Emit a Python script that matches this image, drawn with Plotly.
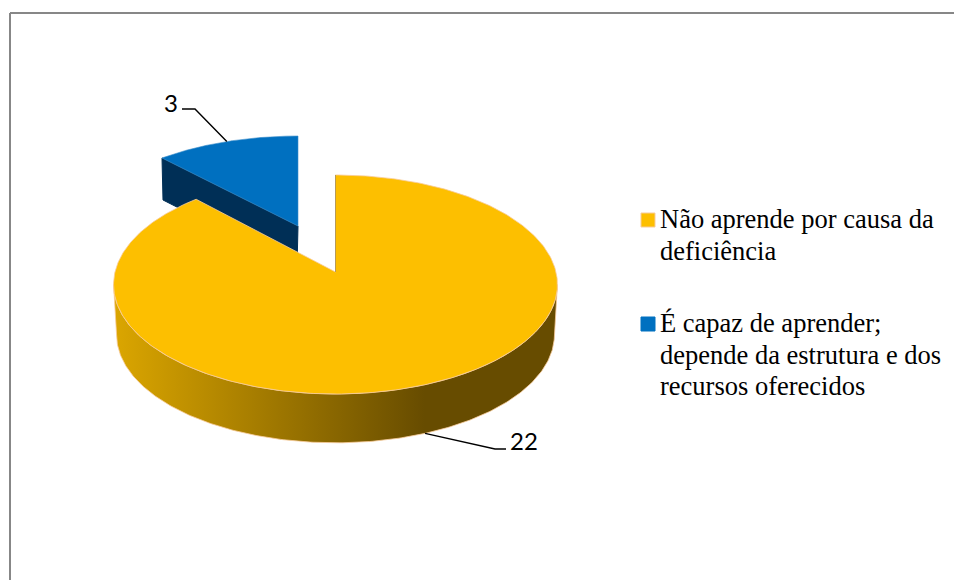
import numpy as np
import plotly.graph_objects as go

# Survey answers shown in the pie
category_lines = [["Não aprende por causa da", "deficiência"],
                  ["É capaz de aprender;", "depende da estrutura e dos", "recursos oferecidos"]]
values = [22, 3]
slice_colors = ["#FDBF00", "#0070C0"]
edge_colors = ["#F7CB9B", "#3D8FCB"]
blue_wall_color = "#002F56"
side_stops = [[0, "#DBA600"], [0.7, "#674C00"], [1, "#674C00"]]

WIDTH, HEIGHT = 954, 580


def project(theta, centre, a, b, k, r=1.0):
    """Perspective projection of a disc point; theta runs clockwise from the back."""
    px, py = r * np.sin(theta), r * np.cos(theta)
    d = 1 + k * py
    return centre[0] + a * px / d, centre[1] - b * py / d


def arc(t0, t1, *args, n=200):
    return project(np.linspace(t0, t1, n), *args)


sweep = [2 * np.pi * v / sum(values) for v in values]

# Projection parameters of the large slice (top and bottom discs) and the pulled-out slice
top = ((335.5, 272), 220.5, 108.1, 0.114)
bottom = ((335.5, 322.4), 217.5, 106.7, 0.114)
out_top = ((298, 226), 220.4, 103.5, 0.15)
out_depth = 42

fig = go.Figure()


def poly(x, y, fill, line=None, width=1):
    fig.add_trace(go.Scatter(x=x, y=y, mode="lines", fill="toself", fillcolor=fill,
                             line=dict(color=line or fill, width=width),
                             hoverinfo="skip", showlegend=False))


# Pulled-out slice: cut wall first, then the top face
start = 2 * np.pi - sweep[1]
ax, ay = out_top[0]
tip_x, tip_y = project(start, *out_top)
poly([tip_x, ax, ax - 1, tip_x + 1, tip_x],
     [tip_y, ay, ay + out_depth, tip_y + out_depth, tip_y], blue_wall_color)
rx, ry = arc(start, 2 * np.pi, *out_top)
poly(np.r_[ax, rx, ax], np.r_[ay, ry, ay], slice_colors[1], edge_colors[1], 0.6)

# Large slice: shaded rim between the silhouette points, then the top face
silhouette = np.arccos(-top[3])
t = np.linspace(silhouette, 2 * np.pi - silhouette, 240)
tx, ty = project(t, *top)
bx, by = project(t[::-1], *bottom)
fig.add_trace(go.Scatter(
    x=np.r_[tx, bx, tx[0]], y=np.r_[ty, by, ty[0]], mode="lines", fill="toself",
    fillcolor=slice_colors[0],
    fillgradient=dict(type="horizontal", colorscale=side_stops, start=114, stop=558),
    line=dict(color=edge_colors[0], width=0.8), hoverinfo="skip", showlegend=False))

ax, ay = top[0]
rx, ry = arc(0, sweep[0], *top, n=400)
poly(np.r_[ax, rx, ax], np.r_[ay, ry, ay], slice_colors[0], edge_colors[0], 0.8)
ex, ey = project(0.0, *top)
fig.add_trace(go.Scatter(x=[ax, ex], y=[ay, ey], mode="lines",
                         line=dict(color="#B79A55", width=1),
                         hoverinfo="skip", showlegend=False))

# Leader lines and value labels, anchored at the middle of each slice's rim
mx, my = project(sweep[0] / 2, *bottom)
fig.add_trace(go.Scatter(x=[mx, 495, 506], y=[my, 449, 449], mode="lines",
                         line=dict(color="black", width=1.4),
                         hoverinfo="skip", showlegend=False))
nx, ny = project(start + sweep[1] / 2, *out_top)
fig.add_trace(go.Scatter(x=[nx, 195, 182], y=[ny, 109, 109], mode="lines",
                         line=dict(color="black", width=1.4),
                         hoverinfo="skip", showlegend=False))

font_value = dict(family="Lato", size=24, color="black")
fig.add_annotation(x=524, y=440, text=str(values[0]), showarrow=False, font=font_value)
fig.add_annotation(x=171, y=102, text=str(values[1]), showarrow=False, font=font_value)

# Legend swatches and labels, one text line at a time
swatch_x = [648, 648]
swatch_y = [220, 324]
line_step = 31.5
fig.add_trace(go.Scatter(x=swatch_x, y=swatch_y, mode="markers",
                         marker=dict(symbol="square", size=14, color=slice_colors,
                                     line=dict(color=[edge_colors[0], slice_colors[1]], width=1)),
                         hoverinfo="skip", showlegend=False))
for lines, y0 in zip(category_lines, swatch_y):
    for i, text in enumerate(lines):
        fig.add_annotation(x=657.5, y=y0 - 1 + i * line_step, text=text, showarrow=False,
                           xanchor="left", align="left",
                           font=dict(family="Liberation Serif", size=26.5, color="black"))

# Frame around the chart area (runs off the page on the right and at the bottom)
frame = dict(type="line", line=dict(color="#878787", width=2), layer="below")
fig.add_shape(x0=10, x1=10, y0=13, y1=HEIGHT, **frame)
fig.add_shape(x0=10, x1=WIDTH, y0=13, y1=13, **frame)

fig.update_layout(
    width=WIDTH, height=HEIGHT, margin=dict(l=0, r=0, t=0, b=0),
    paper_bgcolor="white", plot_bgcolor="white", showlegend=False,
    xaxis=dict(range=[0, WIDTH], visible=False, fixedrange=True),
    yaxis=dict(range=[HEIGHT, 0], visible=False, fixedrange=True),
)
fig.write_html("out.html", config=dict(displayModeBar=False))
